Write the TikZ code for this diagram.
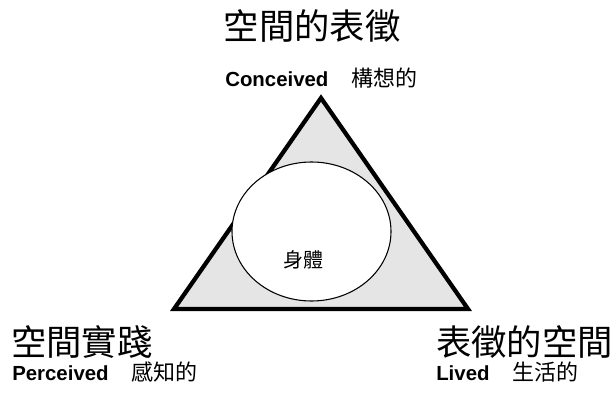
\documentclass[tikz,border=0pt]{standalone}
\usepackage{fontspec}
\setmainfont{Liberation Sans}
\newfontfamily\cjk{Noto Sans CJK TC}
\usetikzlibrary{shapes.geometric}

\newcommand{\subcjk}[1]{\hspace{17pt}{\cjk\mdseries\fontsize{16.5}{18}\selectfont #1}}

\begin{document}
\begin{tikzpicture}[x=0.75pt,y=-0.75pt,
    title node/.style={inner sep=0pt,font=\cjk\fontsize{26.5}{30}\selectfont},
    sub node/.style={inner sep=0pt,font=\bfseries\fontsize{15.3}{18}\selectfont},
    body node/.style={ellipse,draw,thick,fill=white,minimum width=159*0.75pt,minimum height=139*0.75pt}]

    \useasboundingbox (0,0) rectangle (616,402);

    % triangle corners
    \coordinate (top) at (321,98);
    \coordinate (left) at (174,309);
    \coordinate (right) at (468,309);
    \filldraw[fill=black!10,line width=3.2pt,line join=miter] (top) -- (right) -- (left) -- cycle;

    % body in the middle
    \node[body node] (body) at (311.5,231.5) {};
    \node[inner sep=0pt,font=\cjk\fontsize{15}{17}\selectfont] (bodytext) at (303.5,260) {身體};

    % labels
    \node[title node] (conceived) at (312,26) {空間的表徵};
    \node[sub node,anchor=west] (conceivedsub) at (225,78) {Conceived\subcjk{構想的}};

    \node[title node,anchor=west] (perceived) at (11,342) {空間實踐};
    \node[sub node,anchor=west] (perceivedsub) at (12,372) {Perceived\subcjk{感知的}};

    \node[title node,anchor=west] (lived) at (436,342) {表徵的空間};
    \node[sub node,anchor=west] (livedsub) at (436,372) {Lived\subcjk{生活的}};
\end{tikzpicture}
\end{document}
